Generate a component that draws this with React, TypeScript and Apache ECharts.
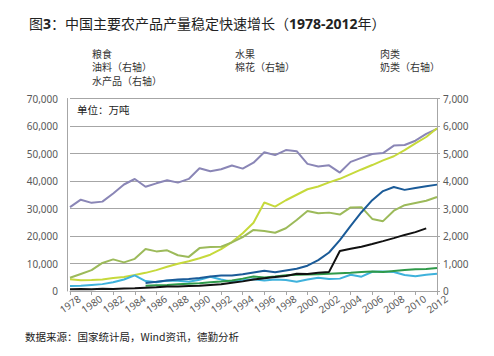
import React, { useEffect, useRef } from 'react';
import * as echarts from 'echarts';

const years = ['1978','1979','1980','1981','1982','1983','1984','1985','1986','1987','1988','1989','1990','1991','1992','1993','1994','1995','1996','1997','1998','1999','2000','2001','2002','2003','2004','2005','2006','2007','2008','2009','2010','2011','2012'];

// 左轴（万吨）
const grain = [30477, 33212, 32056, 32502, 35450, 38728, 40731, 37911, 39151, 40298, 39408, 40755, 44624, 43529, 44266, 45649, 44510, 46662, 50454, 49417, 51230, 50839, 46218, 45264, 45706, 43070, 46947, 48402, 49804, 50160, 52871, 53082, 54648, 57121, 58958];
const fruit = [657, 702, 679, 780, 771, 948, 985, 1164, 1348, 1668, 1666, 1832, 1874, 2176, 2440, 3011, 3500, 4215, 4653, 5089, 5453, 6238, 6225, 6658, 6952, 14517, 15341, 16120, 17102, 18136, 19220, 20396, 21401, 22768, null];
const meat = [null, null, null, null, null, null, null, 1927, 2112, 2216, 2479, 2629, 2857, 3144, 3431, 3841, 4499, 5260, 4900, 5269, 5724, 5949, 6014, 6106, 6234, 6443, 6609, 6939, 7089, 6866, 7279, 7650, 7926, 7965, 8387];
// 右轴（万吨）
const oil = [480, 620, 760, 1020, 1150, 1040, 1170, 1530, 1440, 1480, 1300, 1240, 1560, 1600, 1610, 1770, 1960, 2220, 2180, 2120, 2280, 2580, 2910, 2830, 2850, 2780, 3040, 3050, 2620, 2540, 2920, 3120, 3200, 3280, 3420];
const aquatic = [430, 395, 400, 420, 470, 510, 580, 660, 760, 880, 990, 1080, 1190, 1320, 1520, 1780, 2100, 2480, 3220, 3070, 3300, 3500, 3700, 3800, 3950, 4080, 4250, 4420, 4580, 4750, 4900, 5120, 5370, 5600, 5920];
const cotton = [180, 190, 220, 250, 320, 420, 570, 360, 320, 380, 370, 340, 410, 520, 420, 340, 390, 430, 380, 420, 400, 340, 420, 480, 440, 450, 590, 520, 700, 710, 690, 580, 540, 590, 630];
const milk = [null, null, null, null, null, null, null, 289, 333, 379, 419, 436, 475, 524, 564, 563, 609, 673, 736, 681, 745, 807, 919, 1123, 1400, 1849, 2368, 2865, 3302, 3633, 3781, 3677, 3748, 3811, 3868];

const leftTicks = [0, 10000, 20000, 30000, 40000, 50000, 60000, 70000];
const rightTicks = [0, 1000, 2000, 3000, 4000, 5000, 6000, 7000];

const fmt = (v: number) => String(v).replace(/\B(?=(\d{3})+(?!\d))/g, ',');
const FONT = '"Noto Sans", "Noto Sans CJK SC", sans-serif';
const CJK = '"Noto Sans CJK SC", "Noto Sans", sans-serif';

export default function App() {
  const ref = useRef<HTMLDivElement>(null);
  useEffect(() => {
    if (!ref.current) return;
    const chart = echarts.init(ref.current, null, { renderer: 'svg' });
    const line = (name: string, data: (number | null)[], color: string, yAxisIndex: number) => ({
      name, type: 'line', data, yAxisIndex, symbol: 'none', showSymbol: false,
      lineStyle: { width: 2, color }, itemStyle: { color }, connectNulls: false,
    });
    const legendBase = {
      orient: 'vertical', icon: 'none', itemWidth: 0, itemHeight: 10, itemGap: 3.5,
      textStyle: { fontSize: 10, color: '#333', fontFamily: CJK },
      selectedMode: false,
    };
    chart.setOption({
      animation: false,
      backgroundColor: '#fff',
      title: {
        left: 24, top: 11,
        text: '{a|图}{b|3}{a|：中国主要农产品产量稳定快速增长（}{b|1978-2012}{a|年）}',
        textStyle: {
          fontWeight: 'normal',
          rich: {
            a: { fontSize: 14, color: '#222', fontFamily: CJK, fontWeight: 'normal' },
            b: { fontSize: 14, color: '#222', fontFamily: FONT, fontWeight: 'bold' },
          },
        },
      },
      legend: [
        { ...legendBase, left: 82, top: 43, data: ['粮食', '油料（右轴）', '水产品（右轴）'] },
        { ...legendBase, left: 225, top: 43, data: ['水果', '棉花（右轴）'] },
        { ...legendBase, left: 370, top: 43, data: ['肉类', '奶类（右轴）'] },
      ],
      grid: { left: 70, right: 57, top: 98.5, bottom: 65, containLabel: false },
      xAxis: {
        type: 'category', data: years, boundaryGap: false,
        axisLine: { lineStyle: { color: '#a6a6a6' } },
        axisTick: { show: true, interval: 1, length: 4, lineStyle: { color: '#a6a6a6' } },
        axisLabel: { interval: 1, rotate: 35, align: 'center', verticalAlign: 'middle', margin: 13, fontSize: 10, color: '#595959', fontFamily: FONT },
        splitLine: { show: false },
      },
      yAxis: [
        {
          type: 'value', min: leftTicks[0], max: leftTicks[leftTicks.length - 1], interval: 10000, offset: 3,
          axisLine: { show: true, lineStyle: { color: '#a6a6a6' } },
          axisTick: { show: false },
          axisLabel: { formatter: (v: number) => fmt(v), fontSize: 10, color: '#595959', fontFamily: FONT, margin: 9 },
          splitLine: { show: true, lineStyle: { color: '#a6a6a6', width: 1 } },
        },
        {
          type: 'value', min: rightTicks[0], max: rightTicks[rightTicks.length - 1], interval: 1000, position: 'right',
          axisLine: { show: true, lineStyle: { color: '#a6a6a6' } },
          axisTick: { show: true, inside: false, length: 3, lineStyle: { color: '#a6a6a6' } },
          axisLabel: { formatter: (v: number) => fmt(v), fontSize: 10, color: '#595959', fontFamily: FONT, margin: 6 },
          splitLine: { show: false },
        },
      ],
      graphic: [
        { type: 'text', left: 77, top: 104, style: { text: '单位：万吨', fill: '#222', font: `10.5px ${CJK}` } },
        { type: 'text', left: 25, top: 331, style: { text: '数据来源：国家统计局，Wind资讯，德勤分析', fill: '#222', font: `10.5px ${CJK}` } },
      ],
      series: [
        line('粮食', grain, '#8a86b6', 0),
        line('水产品（右轴）', aquatic, '#c6d93b', 1),
        line('油料（右轴）', oil, '#9cba5a', 1),
        line('棉花（右轴）', cotton, '#3fb2dc', 1),
        line('奶类（右轴）', milk, '#1b5b98', 1),
        line('肉类', meat, '#2f9a4a', 0),
        line('水果', fruit, '#111111', 0),
      ],
    });
    return () => chart.dispose();
  }, []);
  return <div ref={ref} style={{ position: 'fixed', left: 0, top: 0, width: 494, height: 356 }} />;
}
